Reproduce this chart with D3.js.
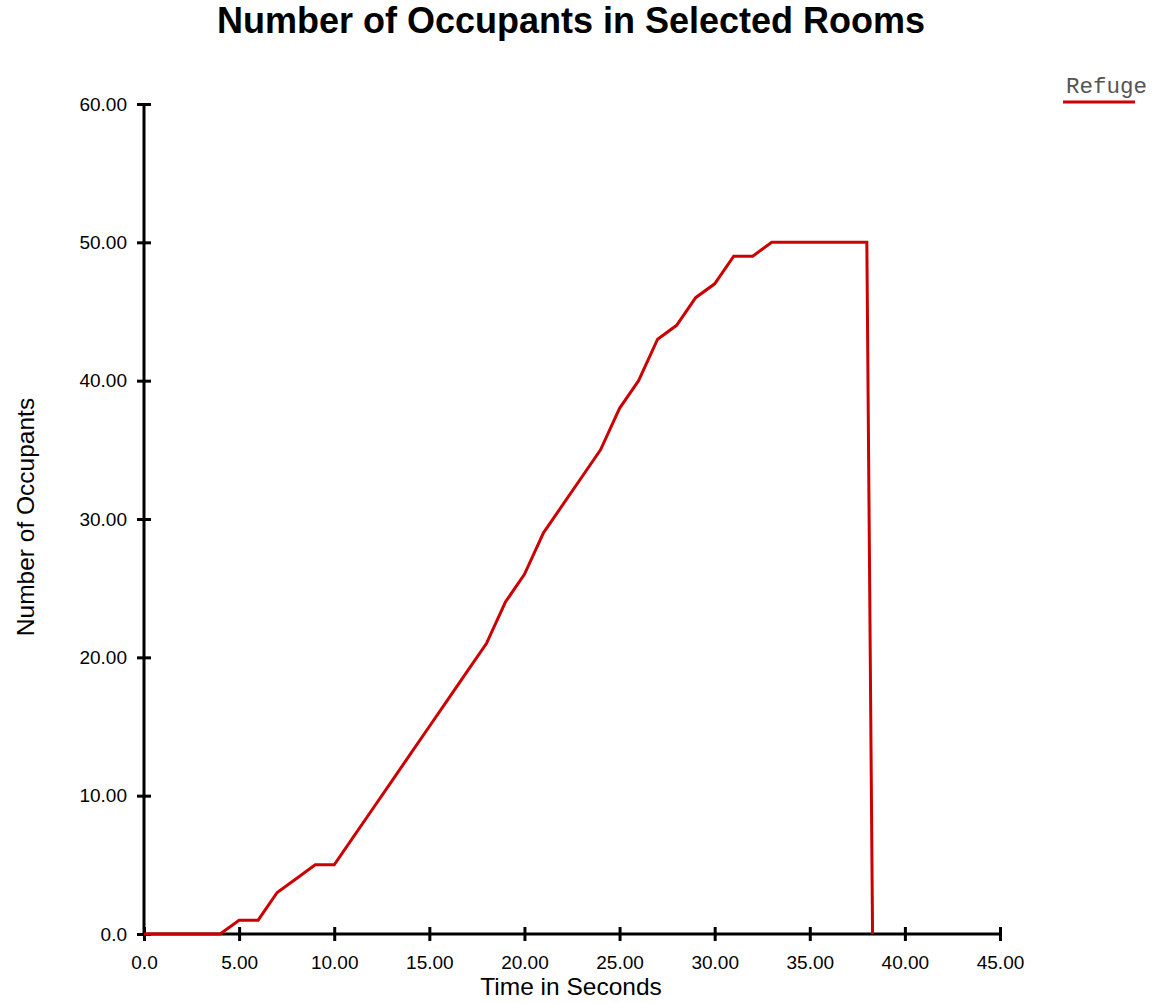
<!DOCTYPE html>
<html lang="en">
    <head>
        <meta charset="utf-8">
        <title>Number of Occupants</title>
        <script src="https://d3js.org/d3.v7.min.js"></script>
        <style type="text/css">
            body { margin: 0; background: #fff; }
            text { font-family: "Liberation Sans", Arial, sans-serif; }
        </style>
    </head>
    <body>
        <svg width="1158" height="1003"></svg>
        <script type="text/javascript">

            // occupants in Refuge, one reading per second
            const times = [0, 1, 2, 3, 4, 5, 6, 7, 8, 9, 10, 11, 12, 13, 14, 15, 16, 17, 18, 19,
                           20, 21, 22, 23, 24, 25, 26, 27, 28, 29, 30, 31, 32, 33, 34, 35, 36, 37, 38, 38.3];
            const occupants = [0, 0, 0, 0, 0, 1, 1, 3, 4, 5, 5, 7, 9, 11, 13, 15, 17, 19, 21, 24,
                               26, 29, 31, 33, 35, 38, 40, 43, 44, 46, 47, 49, 49, 50, 50, 50, 50, 50, 50, 0];
            const xTicks = [0, 5, 10, 15, 20, 25, 30, 35, 40, 45];
            const yTicks = [0, 10, 20, 30, 40, 50, 60];
            const seriesName = "Refuge";

            const dataset = times.map((t, i) => ({t: t, v: occupants[i]}));

            const svg = d3.select("svg");
            const padL = 144, padR = 1000, padT = 104, padB = 934;

            const xScale = d3.scaleLinear().domain([0, 45]).range([padL, padR]);
            const yScale = d3.scaleLinear().domain([0, 60]).range([padB, padT]);

            const fmt = d => d === 0 ? "0.0" : d.toFixed(2);

            //title
            svg.append("text")
               .attr("x", 571).attr("y", 33)
               .attr("text-anchor", "middle")
               .style("font-size", "36px").style("font-weight", "bold")
               .text("Number of Occupants in Selected Rooms");

            //axes - ticks cross the axis line on both sides
            const xAxis = svg.append("g")
               .attr("transform", `translate(0,${padB})`)
               .call(d3.axisBottom(xScale).tickValues(xTicks).tickFormat(fmt).tickSize(7).tickPadding(15));
            xAxis.selectAll(".tick line").attr("y1", -7);

            const yAxis = svg.append("g")
               .attr("transform", `translate(${padL},0)`)
               .call(d3.axisLeft(yScale).tickValues(yTicks).tickFormat(fmt).tickSize(7).tickPadding(10));
            yAxis.selectAll(".tick line").attr("x1", 7);

            svg.selectAll(".domain").attr("stroke", "#000").attr("stroke-width", 3);
            svg.selectAll(".tick line").attr("stroke", "#000").attr("stroke-width", 3);
            svg.selectAll(".tick text")
               .attr("fill", "#000")
               .style("font-size", "19px")
               .style("font-family", "'Liberation Sans', Arial, sans-serif");
            // drop the outer tick ends of the domain path
            xAxis.select(".domain").attr("d", `M${padL},0H${padR}`);
            yAxis.select(".domain").attr("d", `M0,${padT}V${padB}`);

            //axis titles
            svg.append("text")
               .attr("x", 571).attr("y", 995)
               .attr("text-anchor", "middle")
               .style("font-size", "24.5px")
               .text("Time in Seconds");

            svg.append("text")
               .attr("transform", "translate(34,517) rotate(-90)")
               .attr("text-anchor", "middle")
               .style("font-size", "24.5px")
               .text("Number of Occupants");

            //the line
            const line = d3.line()
                           .x(d => xScale(d.t))
                           .y(d => yScale(d.v));

            svg.append("path")
               .datum(dataset)
               .attr("d", line)
               .attr("fill", "none")
               .attr("stroke", "#cc0000")
               .attr("stroke-width", 3)
               .attr("stroke-linejoin", "miter");

            //legend
            svg.append("text")
               .attr("x", 1066).attr("y", 93)
               .style("font-family", "'Liberation Mono', 'Courier New', monospace")
               .style("font-size", "22.5px")
               .attr("fill", "#555")
               .text(seriesName);
            svg.append("line")
               .attr("x1", 1063).attr("x2", 1135)
               .attr("y1", 102).attr("y2", 102)
               .attr("stroke", "#cc0000")
               .attr("stroke-width", 3);

        </script>
    </body>
</html>
